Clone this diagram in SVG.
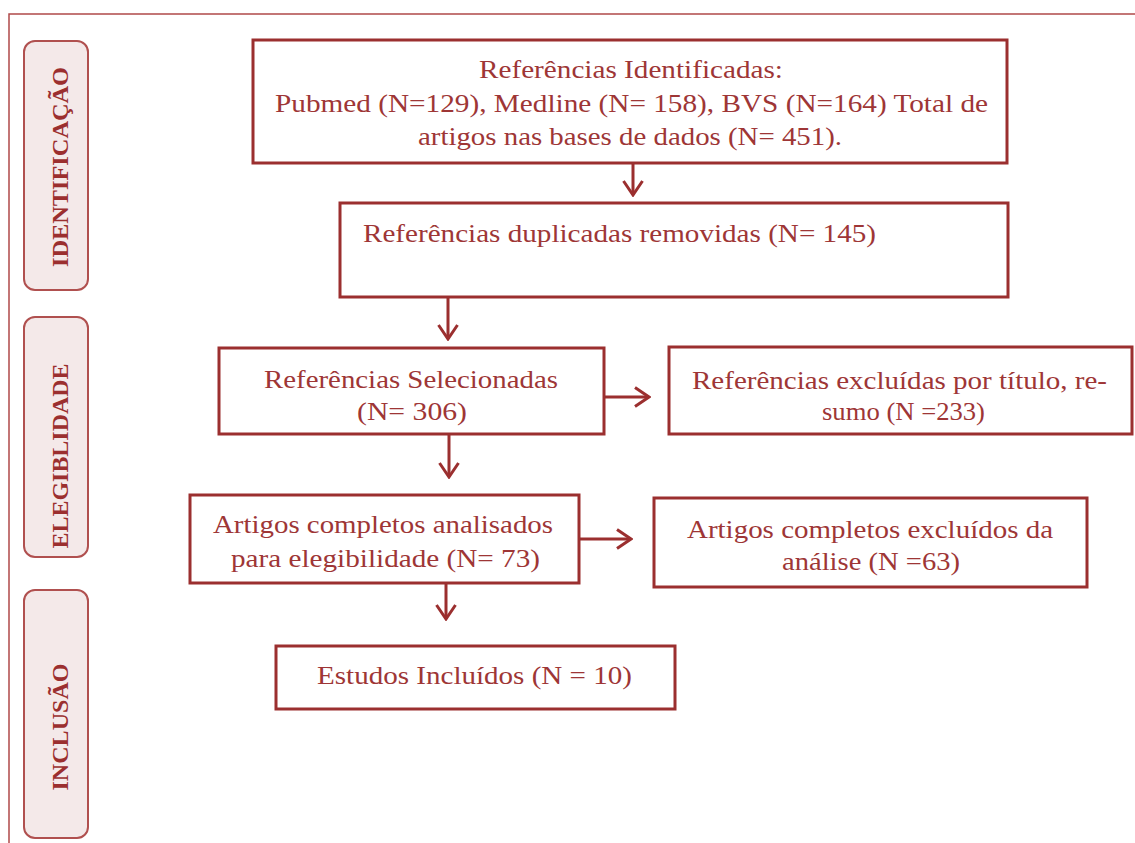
<svg xmlns="http://www.w3.org/2000/svg" width="1135" height="843" viewBox="0 0 1135 843">
<style>
.frame{fill:none;stroke:#b04a4a;stroke-width:1.5}
.phase{fill:#f4e9e9;stroke:#b0504f;stroke-width:2}
.ptxt{font-family:"Liberation Serif","Times New Roman",serif;font-weight:bold;font-size:23px;fill:#9b2f2f;text-anchor:middle}
.box{fill:#ffffff;stroke:#9b2f2f;stroke-width:3}
.t{font-family:"Liberation Serif","Times New Roman",serif;font-size:26px;fill:#9e3636}
.conn{fill:none;stroke:#9b2f2f;stroke-width:3}
</style>
<defs>
<marker id="arr" viewBox="0 0 18 22" markerWidth="18" markerHeight="22" refX="16" refY="11" orient="auto" markerUnits="userSpaceOnUse">
<path d="M2,1.5 L16,11 L2,20.5" fill="none" stroke="#9b2f2f" stroke-width="3"/>
</marker>
</defs>
<rect width="1135" height="843" fill="#ffffff"/>
<path class="frame" d="M9,843 L9,14 L1135,14"/>

<g id="phase-identificacao">
<rect class="phase" x="24" y="41" width="64" height="249" rx="11"/>
<text class="ptxt" transform="translate(68,167) rotate(-90)" textLength="200" lengthAdjust="spacingAndGlyphs">IDENTIFICAÇÃO</text>
</g>
<g id="phase-elegibilidade">
<rect class="phase" x="24" y="317" width="64" height="240" rx="11"/>
<text class="ptxt" transform="translate(68,456) rotate(-90)" textLength="185" lengthAdjust="spacingAndGlyphs">ELEGIBLIDADE</text>
</g>
<g id="phase-inclusao">
<rect class="phase" x="24" y="590" width="64" height="248" rx="11"/>
<text class="ptxt" transform="translate(68,727) rotate(-90)" textLength="127" lengthAdjust="spacingAndGlyphs">INCLUSÃO</text>
</g>

<g id="connectors">
<line class="conn" x1="633" y1="163" x2="633" y2="195" marker-end="url(#arr)"/>
<line class="conn" x1="448" y1="297" x2="448" y2="339" marker-end="url(#arr)"/>
<line class="conn" x1="449" y1="434" x2="449" y2="477" marker-end="url(#arr)"/>
<line class="conn" x1="446" y1="583" x2="446" y2="619" marker-end="url(#arr)"/>
<line class="conn" x1="604" y1="397" x2="649" y2="397" marker-end="url(#arr)"/>
<line class="conn" x1="579" y1="539" x2="631" y2="539" marker-end="url(#arr)"/>
</g>

<g id="node-identificadas">
<rect class="box" x="253" y="40" width="754" height="123"/>
<text class="t" x="479" y="78" textLength="304" lengthAdjust="spacingAndGlyphs">Referências Identificadas:</text>
<text class="t" x="275" y="112" textLength="713" lengthAdjust="spacingAndGlyphs">Pubmed (N=129), Medline (N= 158), BVS (N=164) Total de</text>
<text class="t" x="418" y="145" textLength="424" lengthAdjust="spacingAndGlyphs">artigos nas bases de dados (N= 451).</text>
</g>
<g id="node-duplicadas">
<rect class="box" x="340" y="203" width="668" height="94"/>
<text class="t" x="363" y="242" textLength="513" lengthAdjust="spacingAndGlyphs">Referências duplicadas removidas (N= 145)</text>
</g>
<g id="node-selecionadas">
<rect class="box" x="219" y="348" width="385" height="86"/>
<text class="t" x="264" y="388" textLength="294" lengthAdjust="spacingAndGlyphs">Referências Selecionadas</text>
<text class="t" x="357" y="420" textLength="110" lengthAdjust="spacingAndGlyphs">(N= 306)</text>
</g>
<g id="node-excluidas-titulo">
<rect class="box" x="669" y="347" width="463" height="87"/>
<text class="t" x="692" y="389" textLength="415" lengthAdjust="spacingAndGlyphs">Referências excluídas por título, re-</text>
<text class="t" x="822" y="420" textLength="163" lengthAdjust="spacingAndGlyphs">sumo (N =233)</text>
</g>
<g id="node-analisados">
<rect class="box" x="190" y="495" width="389" height="88"/>
<text class="t" x="213" y="533" textLength="340" lengthAdjust="spacingAndGlyphs">Artigos completos analisados</text>
<text class="t" x="231" y="567" textLength="309" lengthAdjust="spacingAndGlyphs">para elegibilidade (N= 73)</text>
</g>
<g id="node-excluidos-analise">
<rect class="box" x="654" y="498" width="433" height="89"/>
<text class="t" x="687" y="538" textLength="366" lengthAdjust="spacingAndGlyphs">Artigos completos excluídos da</text>
<text class="t" x="782" y="570" textLength="178" lengthAdjust="spacingAndGlyphs">análise (N =63)</text>
</g>
<g id="node-incluidos">
<rect class="box" x="276" y="646" width="399" height="63"/>
<text class="t" x="317" y="684" textLength="315" lengthAdjust="spacingAndGlyphs">Estudos Incluídos (N = 10)</text>
</g>
</svg>
